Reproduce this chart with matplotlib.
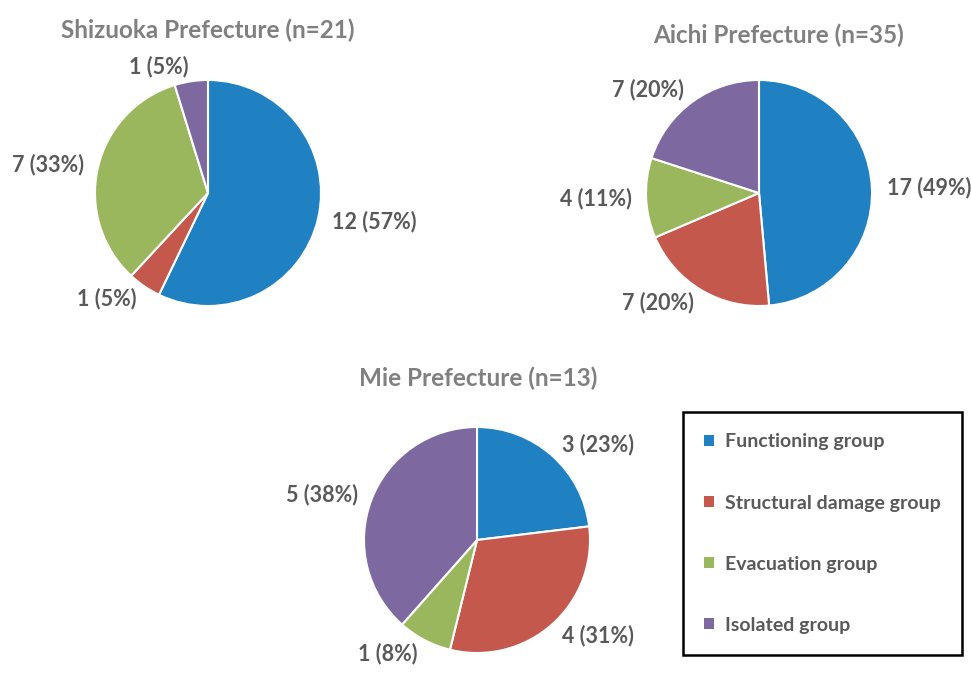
import numpy as np
import matplotlib.pyplot as plt

# groups and colours (same order in every pie, clockwise from 12 o'clock)
groups = ['Functioning group', 'Structural damage group', 'Evacuation group', 'Isolated group']
colors = ['#1f80c2', '#c4584d', '#9bb75e', '#7d68a0']

titles = ['Shizuoka Prefecture (n=21)', 'Aichi Prefecture (n=35)', 'Mie Prefecture (n=13)']
shizuoka = [12, 1, 7, 1]
aichi = [17, 7, 4, 7]
mie = [3, 4, 1, 5]

plt.rcParams['font.family'] = ['Lato', 'DejaVu Sans']

W, H = 971, 674
fig = plt.figure(figsize=(W / 100, H / 100), dpi=100)
R = 113

def pie_at(cx, cy, vals, title, tx, ty):
    ax = fig.add_axes([(cx - R) / W, (H - cy - R) / H, 2 * R / W, 2 * R / H])
    total = sum(vals)
    labels = ['%d (%d%%)' % (v, round(100.0 * v / total)) for v in vals]
    wedges, texts = ax.pie(vals, colors=colors, labels=labels, startangle=90,
                           counterclock=False, labeldistance=1.13, radius=1,
                           wedgeprops=dict(edgecolor='white', linewidth=1.5),
                           textprops=dict(fontsize=15.5, fontweight='bold', color='#595959'))
    ax.set_xlim(-1, 1)
    ax.set_ylim(-1, 1)
    ax.set_aspect('equal')
    ax.axis('off')
    fig.text(tx / W, 1 - ty / H, title, ha='center', va='center',
             fontsize=17.5, fontweight='bold', color='#808080')
    return wedges

w = pie_at(208, 193, shizuoka, titles[0], 208, 30)
pie_at(759, 193, aichi, titles[1], 779, 35)
pie_at(477, 540, mie, titles[2], 478, 378)

leg = fig.legend(w, groups, loc='upper left', bbox_to_anchor=(683 / W, 1 - 412 / H),
                 frameon=True, fancybox=False, edgecolor='black', framealpha=1,
                 prop=dict(family='Lato', size=14, weight='bold'),
                 handlelength=0.5, handleheight=0.5, handletextpad=0.55,
                 borderpad=1.1, labelspacing=2.27, borderaxespad=0)
leg.get_frame().set_linewidth(1.8)
for t in leg.get_texts():
    t.set_color('#595959')
for p in leg.get_patches():
    p.set_edgecolor('none')

plt.savefig('out.png', dpi=100)
